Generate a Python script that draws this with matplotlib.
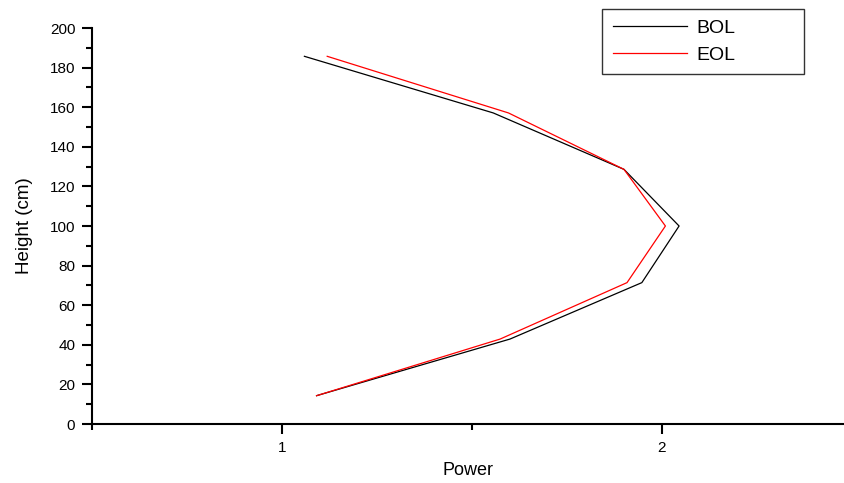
import matplotlib
matplotlib.use('Agg')
import matplotlib.pyplot as plt
from matplotlib.ticker import MultipleLocator

height = [14.3, 42.9, 71.4, 100.0, 128.6, 157.1, 185.7]
power_bol = [1.091, 1.600, 1.947, 2.045, 1.900, 1.556, 1.059]
power_eol = [1.091, 1.574, 1.908, 2.009, 1.900, 1.596, 1.119]

plt.rcParams['font.family'] = ['Liberation Sans', 'DejaVu Sans']

fig = plt.figure(figsize=(8.44, 4.83), dpi=100)
ax = fig.add_axes([92 / 844, 59 / 483, 752 / 844, 396 / 483])

ax.plot(power_bol, height, color='black', linewidth=0.9, label='BOL')
ax.plot(power_eol, height, color='red', linewidth=0.9, label='EOL')

ax.set_xlim(0.5, 2.479)
ax.set_ylim(0, 200)
ax.xaxis.set_major_locator(MultipleLocator(1))
ax.xaxis.set_minor_locator(MultipleLocator(0.5))
ax.yaxis.set_major_locator(MultipleLocator(20))
ax.yaxis.set_minor_locator(MultipleLocator(10))

for s in ['top', 'right']:
    ax.spines[s].set_visible(False)
for s in ['left', 'bottom']:
    ax.spines[s].set_linewidth(1.5)

ax.tick_params(which='major', direction='out', length=7, width=1.5, labelsize=11)
ax.tick_params(which='minor', direction='out', length=4, width=1.5)
ax.tick_params(axis='x', pad=5)
ax.tick_params(axis='y', pad=5)

ax.set_xlabel('Power', fontsize=13, labelpad=5)
ax.set_ylabel('Height (cm)', fontsize=13.5, labelpad=12)

leg = ax.legend(loc='upper left', bbox_to_anchor=(602 / 844, 1 - 73 / 483, 202 / 844, 64 / 483),
                bbox_transform=fig.transFigure, mode='expand', fancybox=False,
                edgecolor='black', fontsize=14, handlelength=3.8, handletextpad=0.5,
                labelspacing=0.45, borderpad=0.55, borderaxespad=0)
leg.get_frame().set_linewidth(1.0)

fig.savefig('out.png', dpi=100)
